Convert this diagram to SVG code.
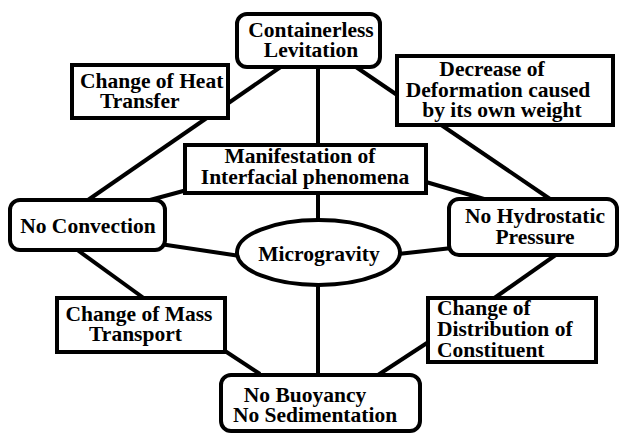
<svg xmlns="http://www.w3.org/2000/svg" width="621" height="434" viewBox="0 0 621 434">
<style>
.box{fill:#fff;stroke:#000;stroke-width:4}
.c line{stroke:#000;stroke-width:4}
text{font-family:"Liberation Serif","Times New Roman",serif;font-weight:bold;font-size:21.5px;fill:#000}
.m{text-anchor:middle}
</style>
<rect width="621" height="434" fill="#fff"/>
<g id="connectors" class="c">
<line x1="318" y1="60" x2="318" y2="380"/>
<line x1="282" y1="66" x2="88" y2="200"/>
<line x1="356" y1="67" x2="550" y2="199"/>
<line x1="187" y1="190" x2="150" y2="200"/>
<line x1="426" y1="182" x2="484" y2="199"/>
<line x1="160" y1="244" x2="240" y2="256"/>
<line x1="398" y1="254" x2="452" y2="248"/>
<line x1="76" y1="249" x2="145" y2="299"/>
<line x1="222" y1="349" x2="260" y2="374"/>
<line x1="557" y1="254" x2="493" y2="299"/>
<line x1="430" y1="341" x2="378" y2="375"/>
</g>
<g id="containerless">
<rect class="box" x="237" y="14" width="143" height="53" rx="10"/>
<text class="m" x="311" y="37">Containerless</text>
<text class="m" x="311" y="57">Levitation</text>
</g>
<g id="heat">
<rect class="box" x="72" y="65" width="156" height="53"/>
<text x="80" y="88">Change of Heat</text>
<text x="100" y="108">Transfer</text>
</g>
<g id="decrease">
<rect class="box" x="397" y="56" width="216" height="69"/>
<text class="m" x="492" y="76">Decrease of</text>
<text class="m" x="498" y="97">Deformation caused</text>
<text class="m" x="502" y="117">by its own weight</text>
</g>
<g id="manifestation">
<rect class="box" x="185" y="145" width="241" height="48"/>
<text class="m" x="300" y="163">Manifestation of</text>
<text class="m" x="305" y="184">Interfacial phenomena</text>
</g>
<g id="noconvection">
<rect class="box" x="10" y="200" width="155" height="50" rx="10"/>
<text class="m" x="88" y="233">No Convection</text>
</g>
<g id="nohydrostatic">
<rect class="box" x="449" y="199" width="168" height="56" rx="10"/>
<text class="m" x="535" y="223">No Hydrostatic</text>
<text class="m" x="535" y="244">Pressure</text>
</g>
<g id="microgravity">
<ellipse class="box" cx="318.5" cy="252.5" rx="81.5" ry="32.5"/>
<text class="m" x="319" y="261">Microgravity</text>
</g>
<g id="mass">
<rect class="box" x="57" y="298" width="168" height="54"/>
<text class="m" x="139" y="321">Change of Mass</text>
<text class="m" x="135.5" y="341">Transport</text>
</g>
<g id="distribution">
<rect class="box" x="428" y="298" width="168" height="64"/>
<text x="437" y="315">Change of</text>
<text x="437" y="336">Distribution of</text>
<text x="437" y="357">Constituent</text>
</g>
<g id="buoyancy">
<rect class="box" x="221" y="375" width="199" height="56" rx="10"/>
<text class="m" x="305" y="402">No Buoyancy</text>
<text class="m" x="315" y="422">No Sedimentation</text>
</g>
</svg>
